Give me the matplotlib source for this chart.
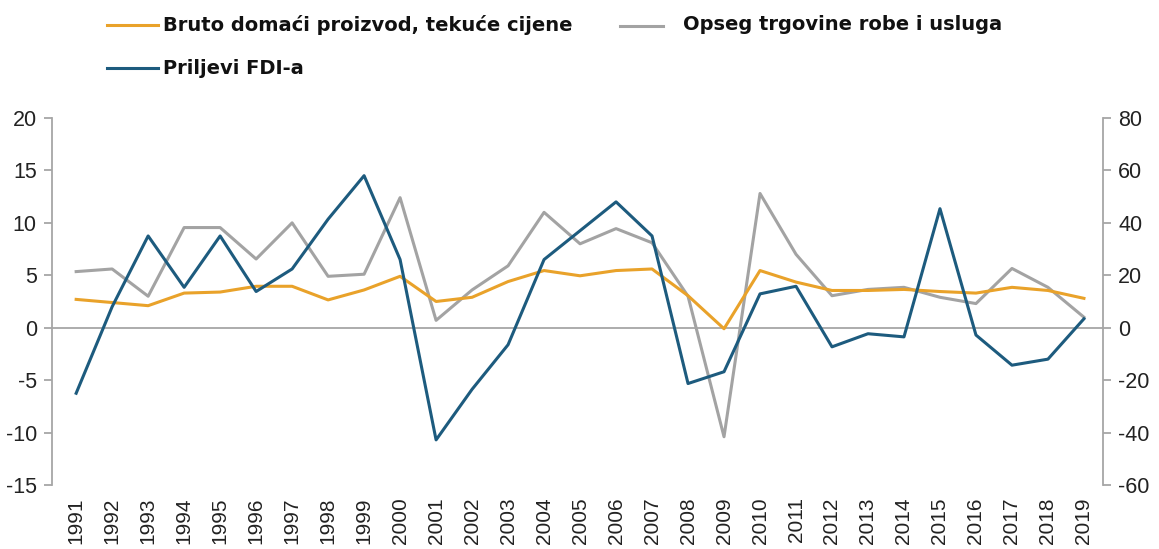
import matplotlib
matplotlib.use("Agg")
import matplotlib.pyplot as plt
from matplotlib.lines import Line2D

years = list(range(1991, 2020))

# Bruto domaci proizvod (lijeva os)
gdp = [2.7, 2.4, 2.1, 3.3, 3.4, 3.95, 3.95, 2.65, 3.6, 4.9,
       2.5, 2.9, 4.4, 5.45, 4.95, 5.45, 5.6, 3.05, -0.1, 5.45,
       4.35, 3.55, 3.55, 3.65, 3.45, 3.3, 3.85, 3.55, 2.8]

# Opseg trgovine robe i usluga (lijeva os)
trade = [5.35, 5.6, 3.0, 9.55, 9.55, 6.55, 10.0, 4.9, 5.1, 12.4,
         0.7, 3.6, 5.9, 11.0, 8.0, 9.45, 8.1, 3.0, -10.4, 12.8,
         7.0, 3.05, 3.65, 3.85, 2.9, 2.3, 5.65, 3.85, 1.0]

# Priljevi FDI-a (desna os)
fdi = [-25.0, 8.0, 35.0, 15.4, 35.0, 13.8, 22.4, 41.4, 58.0, 26.0,
       -42.8, -23.5, -6.5, 26.0, 37.0, 48.0, 35.0, -21.3, -16.8, 12.9,
       15.8, -7.3, -2.3, -3.5, 45.4, -2.8, -14.3, -12.0, 3.4]

labels = ["Bruto domaći proizvod, tekuće cijene",
          "Opseg trgovine robe i usluga",
          "Priljevi FDI-a"]

ORANGE = "#E9A22A"
GREY = "#A3A3A3"
BLUE = "#1D5B7E"
AXIS = "#A6A6A6"

plt.rcParams["font.family"] = ["Liberation Sans", "DejaVu Sans"]
plt.rcParams["axes.unicode_minus"] = False

fig = plt.figure(figsize=(11.59, 5.49), dpi=100)
ax = fig.add_axes([0.0449, 0.1166, 0.9068, 0.6685])
ax2 = ax.twinx()

ax.plot(years, gdp, color=ORANGE, lw=2.2, zorder=3)
ax.plot(years, trade, color=GREY, lw=2.2, zorder=2)
ax2.plot(years, fdi, color=BLUE, lw=2.2, zorder=4)

ax.axhline(0, color=AXIS, lw=1.3, zorder=1)

ax.set_xlim(1990.33, 2019.53)
ax.set_ylim(-15, 20)
ax2.set_ylim(-60, 80)
ax.set_yticks(range(-15, 21, 5))
ax2.set_yticks(range(-60, 81, 20))
ax.set_xticks(years)
ax.set_xticklabels([str(y) for y in years], rotation=90, fontsize=15, color="#222222")
ax.tick_params(axis="x", length=0, pad=9)
ax.tick_params(axis="y", labelsize=15.5, colors=AXIS, labelcolor="#222222", length=6, width=1.3, pad=5)
ax2.tick_params(axis="y", labelsize=15.5, colors=AXIS, labelcolor="#222222", length=6, width=1.3, pad=5)

for a in (ax, ax2):
    for s in ("top", "bottom"):
        a.spines[s].set_visible(False)
    a.spines["left"].set_color(AXIS)
    a.spines["right"].set_color(AXIS)
    a.spines["left"].set_linewidth(1.3)
    a.spines["right"].set_linewidth(1.3)
ax.spines["right"].set_visible(False)
ax2.spines["left"].set_visible(False)
ax.set_zorder(ax2.get_zorder() - 1)
ax2.patch.set_visible(False)

# legenda
W, H = 1159, 549
legend_items = [(107, 158, 25, 163, 25, ORANGE, labels[0]),
                (620, 663, 26, 683, 25, GREY, labels[1]),
                (107, 158, 68, 163, 68, BLUE, labels[2])]
for x0, x1, ly, tx, ty, col, lab in legend_items:
    fig.add_artist(Line2D([x0 / W, x1 / W], [1 - ly / H, 1 - ly / H],
                          color=col, lw=2.2, transform=fig.transFigure))
    fig.text(tx / W, 1 - ty / H, lab, fontsize=14, fontweight="bold",
             family=["DejaVu Sans"], va="center", ha="left", color="#111111")

fig.savefig("out.png", dpi=100)
